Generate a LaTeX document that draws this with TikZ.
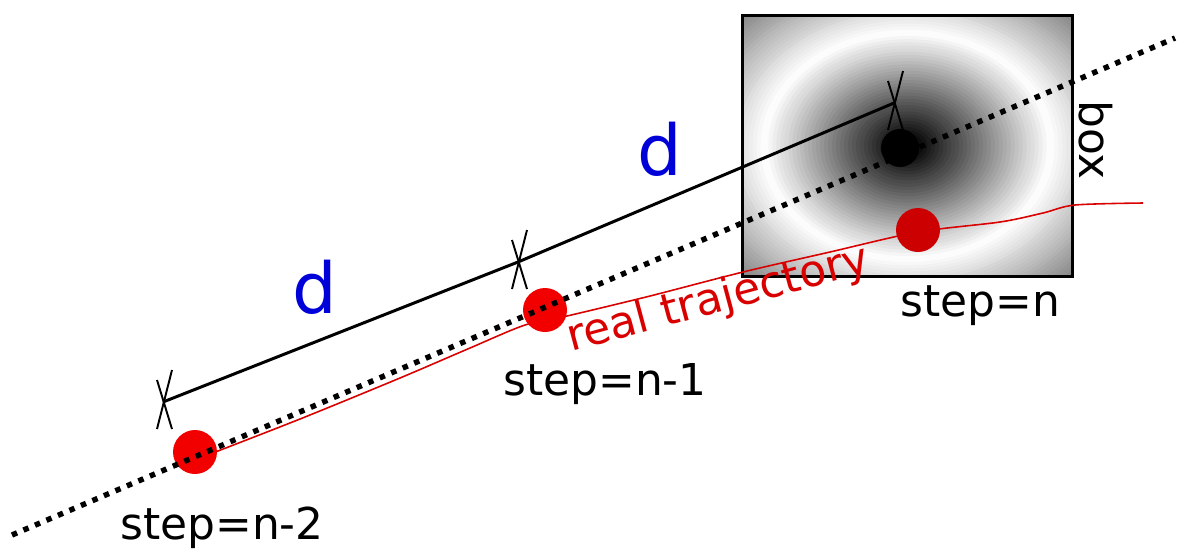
\documentclass[tikz,border=0pt]{standalone}
\usepackage{fontspec}
\setmainfont{DejaVu Sans}
\usetikzlibrary{positioning}

\begin{document}
\begin{tikzpicture}[x=0.02cm, y=-0.02cm,
	txt/.style={font=\fontsize{25}{29}\selectfont, inner sep=0pt},
	dlab/.style={font=\fontsize{40}{44}\selectfont, text=blue!85!black, inner sep=0pt},
	stepdot/.style={circle, fill=\dotColor, inner sep=0pt, minimum size=0.88cm},
	xmark/.style={black, line width=1.1pt}]
	
	\useasboundingbox (0,0) rectangle (1179,549);
	
	% ---- Adjustable colors ----
	\def\dotColor{red!95!black}
	\def\lastColor{red!80!black}
	\def\trajColor{red!85!black}
	
	% ---- Box with ring shading (dark centre, white ring, grey corners) ----
	\node[minimum width=6.58cm, minimum height=5.2cm, inner sep=0pt] (box) at (907.5,146) {};
	\begin{scope}
		\clip (box.north west) rectangle (box.south east);
		\foreach \i in {0,...,60}
		{
			\pgfmathsetmacro{\r}{1.45*(1-\i/60)}
			\pgfmathtruncatemacro{\p}{\r>0.88 ? 50*(\r-0.88)/0.57 : max(0,min(100,100*(1-(\r-0.06)/0.82)))}
			\fill[black!\p] (box.center) ellipse [x radius=\r*3.29cm, y radius=\r*2.6cm];
		}
	\end{scope}
	\draw[line width=2pt] (box.north west) rectangle (box.south east);
	\node[txt, rotate=-90, anchor=base] (boxlab) at (1079,140) {box};
	
	% ---- Real trajectory ----
	\coordinate (t0) at (205,456);
	\coordinate (t1) at (1143,203);
	\draw[\trajColor, line width=0.9pt] plot[smooth, tension=0.5] coordinates {
		(t0) (300,419) (400,378) (470,348) (525,325) (567,316) (650,296)
		(743,272) (830,252) (918,232) (1000,222) (1043,213) (1075,205) (t1)};
	\node[txt, text=\trajColor, rotate=15, anchor=base west] (trajlab) at (571,352) {real trajectory};
	
	% ---- Positions at the steps ----
	\foreach \pos/\name in {{(195,452)}/A, {(545,310)}/B}
	{
		\node[stepdot] (s\name) at \pos {};
	}
	\node[stepdot, fill=\lastColor] (sC) at (918,230) {};
	\node[circle, fill=black, inner sep=0pt, minimum size=0.76cm] (pred) at (900,148) {};
	
	% ---- Step labels ----
	\foreach \pos/\name/\lab in {{(222,539)}/A/n-2, {(605,395)}/B/n-1, {(980,316)}/C/n}
	{
		\node[txt, anchor=base] (l\name) at \pos {step=\lab};
	}
	
	% ---- Straight line through the steps ----
	\coordinate (lineS) at (12,535);
	\coordinate (lineE) at (1175,38);
	\draw[line width=3.1pt, dash pattern=on 0.11cm off 0.14cm] (lineS) -- (lineE);
	
	% ---- Distance d ----
	\coordinate (m1) at (163,402);
	\coordinate (m2) at (518,262);
	\coordinate (m3) at (894,103);
	\draw[line width=1.7pt] (m1) -- (m2) -- (m3);
	\foreach \m in {m1,m2,m3}
	{
		\draw[xmark] ([shift={(-6,-22)}]\m) -- ([shift={(9,27)}]\m);
		\draw[xmark] ([shift={(9,-32)}]\m) -- ([shift={(-6,27)}]\m);
	}
	\node[dlab, anchor=base] (d1) at (315,313) {d};
	\node[dlab, anchor=base] (d2) at (660,175) {d};
	
\end{tikzpicture}
\end{document}
